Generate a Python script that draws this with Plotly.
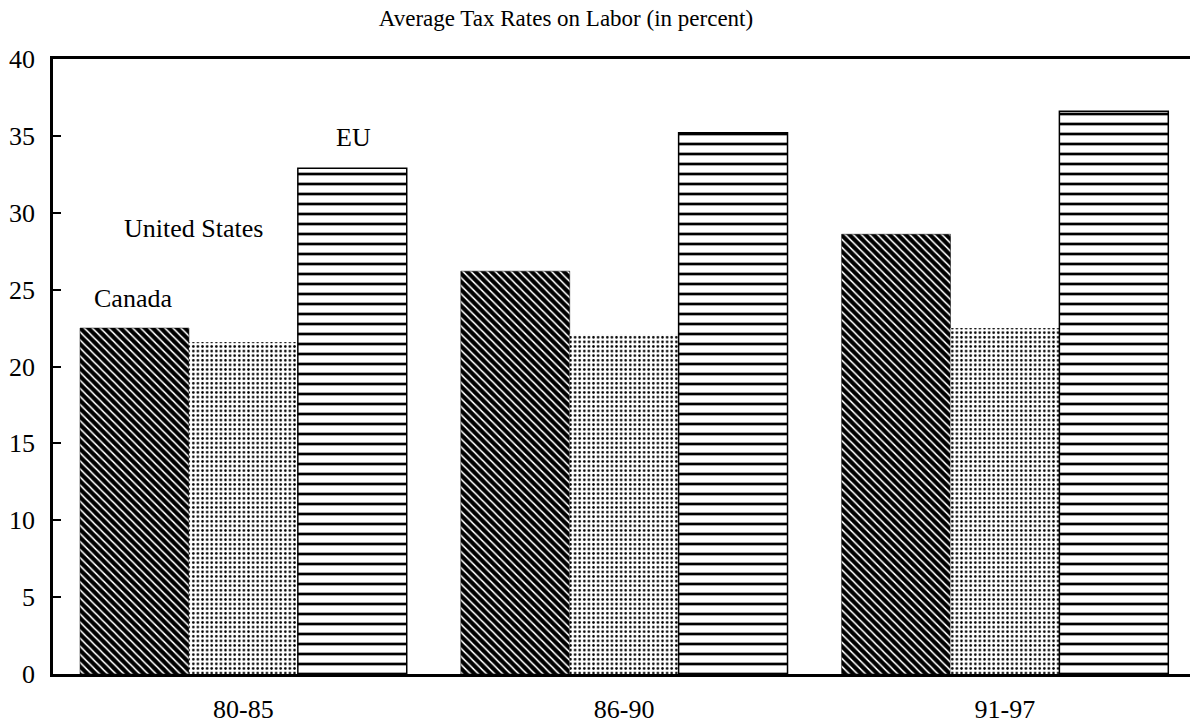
import plotly.graph_objects as go

# Average tax rates on labor, by period
periods = ["80-85", "86-90", "91-97"]
canada = [22.5, 26.2, 28.6]
united_states = [21.6, 22.1, 22.5]
eu = [32.9, 35.2, 36.6]

title_text = "Average Tax Rates on Labor (in percent)"
series_labels = ["Canada", "United States", "EU"]

SERIF = "Liberation Serif, Times New Roman, serif"

fig = go.Figure()

fig.add_trace(go.Bar(
    x=periods, y=canada, name=series_labels[0],
    marker=dict(
        color="white",
        line=dict(color="black", width=0.5),
        pattern=dict(shape="\\", fgcolor="black", bgcolor="white", fgopacity=1,
                     size=5.7, solidity=0.72, fillmode="replace"),
    ),
))
fig.add_trace(go.Bar(
    x=periods, y=united_states, name=series_labels[1],
    marker=dict(
        color="white",
        line=dict(color="white", width=0),
        pattern=dict(shape=".", fgcolor="black", bgcolor="white", fgopacity=1,
                     size=4.6, solidity=0.25, fillmode="replace"),
    ),
))
fig.add_trace(go.Bar(
    x=periods, y=eu, name=series_labels[2],
    marker=dict(
        color="white",
        line=dict(color="black", width=1.5),
        pattern=dict(shape="-", fgcolor="black", bgcolor="white", fgopacity=1,
                     size=10, solidity=0.27, fillmode="replace"),
    ),
))

# series labels placed above the first group of bars
label_font = dict(family=SERIF, size=26, color="black")
fig.add_annotation(x=-0.289, y=24.4, xref="x", yref="y", text=series_labels[0],
                   showarrow=False, font=label_font)
fig.add_annotation(x=-0.131, y=29.0, xref="x", yref="y", text=series_labels[1],
                   showarrow=False, font=label_font)
fig.add_annotation(x=0.289, y=34.9, xref="x", yref="y", text=series_labels[2],
                   showarrow=False, font=label_font)

fig.update_layout(
    width=1190, height=727,
    margin=dict(l=53, r=0, t=59, b=53),
    paper_bgcolor="white", plot_bgcolor="white",
    barmode="group", bargap=0.142, bargroupgap=0,
    showlegend=False,
    title=dict(text=title_text, x=566 / 1190, xanchor="center",
               y=1 - 18 / 727, yanchor="middle",
               font=dict(family=SERIF, size=23, color="black")),
    font=dict(family=SERIF, color="black"),
)

fig.update_xaxes(
    range=[-0.5, 2.486],
    showline=True, linecolor="black", linewidth=2.5, mirror=True,
    ticks="", showgrid=False, zeroline=False,
    tickfont=dict(family=SERIF, size=26, color="black"),
    ticklabelstandoff=10,
)
fig.update_yaxes(
    range=[0, 40], dtick=5, tick0=0,
    showline=True, linecolor="black", linewidth=2.5, mirror=False,
    ticks="inside", ticklen=8, tickwidth=2, tickcolor="black",
    showgrid=False, zeroline=False,
    tickfont=dict(family=SERIF, size=26, color="black"),
    ticklabelstandoff=10,
)

fig.write_html("out.html")
